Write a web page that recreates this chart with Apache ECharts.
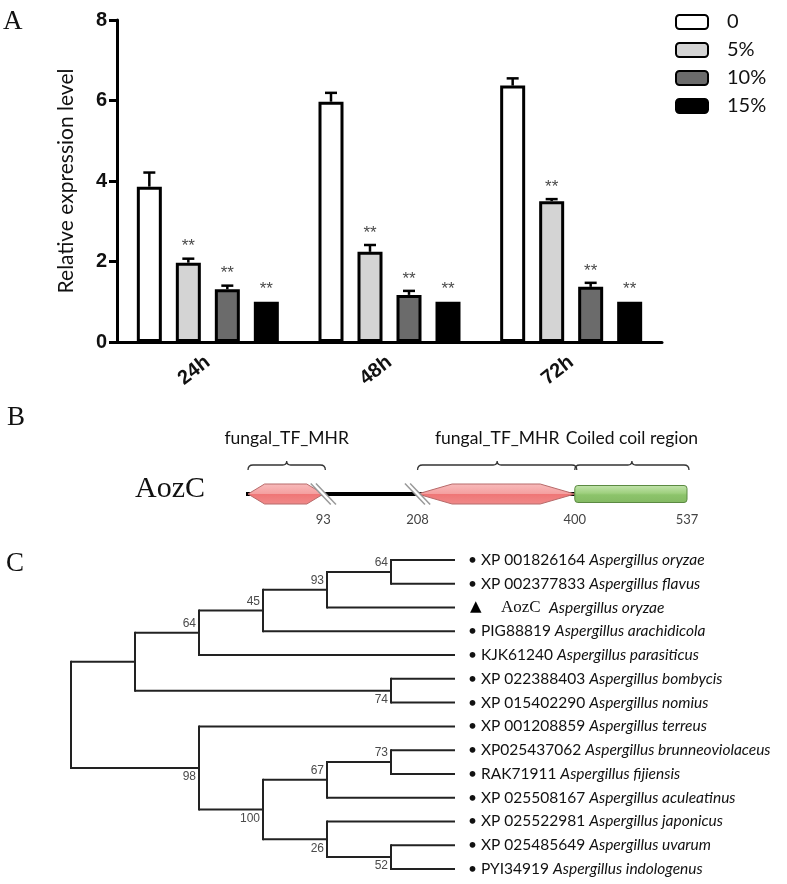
<!DOCTYPE html>
<html><head><meta charset="utf-8">
<script src="https://cdn.jsdelivr.net/npm/echarts@6/dist/echarts.min.js"></script>
<style>html,body{margin:0;padding:0;background:#fff}#c{width:787px;height:884px}</style>
</head><body><div id="c"></div>
<script>
// ---------------- Panel A data ----------------
const categories = ['24h', '48h', '72h'];
const groupNames = ['0', '5%', '10%', '15%'];
const mean0  = [3.86, 5.97, 6.37];
const mean5  = [1.97, 2.24, 3.50];
const mean10 = [1.31, 1.17, 1.37];
const mean15 = [1.00, 1.00, 1.00];
const err0  = [0.35, 0.22, 0.18];
const err5  = [0.10, 0.17, 0.05];
const err10 = [0.09, 0.10, 0.10];
const err15 = [0, 0, 0];
const sig0  = ['', '', ''];
const sig5  = ['**', '**', '**'];
const sig10 = ['**', '**', '**'];
const sig15 = ['**', '**', '**'];
const yMin = 0, yMax = 8, yStep = 2;

// ---------------- Panel B data ----------------
const proteinName = 'AozC';
const proteinLength = 537;
const domainNames = ['fungal_TF_MHR', 'fungal_TF_MHR', 'Coiled coil region'];
const domainStart = [1, 208, 400];
const domainEnd   = [93, 400, 537];
const domainShape = ['hex', 'hex', 'bar'];
const breakPoints = [93, 208];
const positionMarks = [93, 208, 400, 537];

// ---------------- Panel C data ----------------
const taxonIds = ['XP 001826164', 'XP 002377833', 'AozC', 'PIG88819', 'KJK61240',
  'XP 022388403', 'XP 015402290', 'XP 001208859', 'XP025437062', 'RAK71911',
  'XP 025508167', 'XP 025522981', 'XP 025485649', 'PYI34919'];
const taxonSpecies = ['Aspergillus oryzae', 'Aspergillus flavus', 'Aspergillus oryzae',
  'Aspergillus arachidicola', 'Aspergillus parasiticus', 'Aspergillus bombycis',
  'Aspergillus nomius', 'Aspergillus terreus', 'Aspergillus brunneoviolaceus',
  'Aspergillus fijiensis', 'Aspergillus aculeatinus', 'Aspergillus japonicus',
  'Aspergillus uvarum', 'Aspergillus indologenus'];
const queryTaxon = 2;
const treeNewick = '((((((0,1)64,2)93,3)45,4)64,(5,6)74),(7,(((8,9)73,10)67,(11,(12,13)52)26)100)98);';

// ---------------- helpers ----------------
const means = [mean0, mean5, mean10, mean15];
const errs = [err0, err5, err10, err15];
const sigs = [sig0, sig5, sig10, sig15];
const fills = ['#ffffff', '#d4d4d4', '#6b6b6b', '#000000'];
const BAR_W = 25, BAR_GAP = 0.56;
const CAL = 'Lato, "Open Sans", sans-serif';

function parseNewick(s) {
  let i = 0;
  function node() {
    const n = { children: [] };
    if (s[i] === '(') {
      i++;
      n.children.push(node());
      while (s[i] === ',') { i++; n.children.push(node()); }
      i++;
    }
    let tok = '';
    while (i < s.length && !',();'.includes(s[i])) tok += s[i++];
    if (n.children.length) n.support = tok === '' ? null : tok; else n.leaf = +tok;
    return n;
  }
  return node();
}
const treeRoot = parseNewick(treeNewick);
function measure(n) {
  if (!n.children.length) { n.h = 0; n.y = n.leaf; return; }
  n.children.forEach(measure);
  n.h = 1 + Math.max(...n.children.map(c => c.h));
  n.y = (n.children[0].y + n.children[n.children.length - 1].y) / 2;
}
measure(treeRoot);
const H = treeRoot.h;
const treeNodes = [];
function flatten(n, parent, pos) {
  n.x = H - n.h;
  treeNodes.push({ node: n, parent: parent, pos: pos });
  n.children.forEach((c, k) => flatten(c, n, k === 0 ? -1 : 1));
}
flatten(treeRoot, null, 0);

// ---------------- series ----------------
const series = [];
groupNames.forEach((g, i) => {
  series.push({
    type: 'bar', name: g, xAxisIndex: 0, yAxisIndex: 0, data: means[i],
    barWidth: BAR_W, barGap: (BAR_GAP * 100) + '%', z: 2,
    itemStyle: { color: fills[i], borderColor: '#000', borderWidth: 3 },
    emphasis: { disabled: true }
  });
});
groupNames.forEach((g, i) => {
  series.push({
    type: 'custom', xAxisIndex: 0, yAxisIndex: 0, z: 3, silent: true,
    data: categories.map((c, j) => [j, means[i][j], errs[i][j]]),
    renderItem: function (params, api) {
      const j = api.value(0), m = api.value(1), e = api.value(2);
      const base = api.coord([j, m]);
      const top = api.coord([j, m + e]);
      const x = base[0] + (i - 1.5) * BAR_W * (1 + BAR_GAP);
      const ch = [];
      if (e > 0) {
        ch.push({ type: 'line', shape: { x1: x, y1: base[1], x2: x, y2: top[1] }, style: { stroke: '#000', lineWidth: 2.5 } });
        ch.push({ type: 'line', shape: { x1: x - 6, y1: top[1], x2: x + 6, y2: top[1] }, style: { stroke: '#000', lineWidth: 2.5 } });
      }
      const s = sigs[i][params.dataIndex];
      if (s) ch.push({ type: 'text', style: { text: s, x: x, y: top[1] - 12, align: 'center', verticalAlign: 'middle', fontSize: 17, fontFamily: '"Liberation Sans"', fill: '#4a4a4a' } });
      return { type: 'group', children: ch };
    }
  });
});

// Panel B: backbone
series.push({
  type: 'custom', xAxisIndex: 1, yAxisIndex: 1, silent: true, z: 1,
  data: [[domainStart[0], domainStart[2]]],
  renderItem: function (params, api) {
    const a = api.coord([api.value(0), 0.5]), b = api.coord([api.value(1), 0.5]);
    return { type: 'line', shape: { x1: a[0] - 2, y1: a[1], x2: b[0], y2: b[1] }, style: { stroke: '#000', lineWidth: 4 } };
  }
});
// Panel B: domains
series.push({
  type: 'custom', xAxisIndex: 1, yAxisIndex: 1, silent: true, z: 2,
  data: domainStart.map((s, k) => [s, domainEnd[k], k]),
  renderItem: function (params, api) {
    const k = api.value(2);
    const a = api.coord([api.value(0), 0.5]), b = api.coord([api.value(1), 0.5]);
    const yt = api.coord([api.value(0), 1])[1], yb = api.coord([api.value(0), 0])[1];
    const ym = a[1];
    const ch = [];
    if (domainShape[k] === 'hex') {
      const t = (b[0] - a[0]) * 0.22;
      ch.push({ type: 'polygon', shape: { points: [[a[0], ym], [a[0] + t, yt], [b[0] - t, yt], [b[0], ym], [b[0] - t, yb], [a[0] + t, yb]] },
        style: { fill: new echarts.graphic.LinearGradient(0, 0, 0, 1, [
          { offset: 0, color: '#f8bcbc' }, { offset: 0.48, color: '#f4a0a0' },
          { offset: 0.52, color: '#ef7676' }, { offset: 1, color: '#f08a8a' }]),
          stroke: '#b76a6a', lineWidth: 1 } });
    } else {
      ch.push({ type: 'rect', shape: { x: a[0], y: yt + 1.5, width: b[0] - a[0], height: yb - yt - 3, r: 3 },
        style: { fill: new echarts.graphic.LinearGradient(0, 0, 0, 1, [
          { offset: 0, color: '#c4e4ae' }, { offset: 0.45, color: '#9fd07f' },
          { offset: 0.55, color: '#8cc46b' }, { offset: 1, color: '#84b963' }]),
          stroke: '#5b8a42', lineWidth: 1 } });
    }
    const by = yt - 19, x0 = a[0], x1 = b[0] + 2, xm = (x0 + x1) / 2;
    ch.push({ type: 'path', shape: { pathData:
      `M${x0},${by + 5} Q${x0},${by} ${x0 + 5},${by} L${xm - 4},${by} Q${xm},${by} ${xm},${by - 4} Q${xm},${by} ${xm + 4},${by} L${x1 - 5},${by} Q${x1},${by} ${x1},${by + 5}` },
      style: { fill: 'none', stroke: '#333', lineWidth: 1.3 } });
    ch.push({ type: 'text', style: { text: domainNames[k], x: xm, y: yt - 46, align: 'center', verticalAlign: 'middle', fontSize: 17.5, fontFamily: CAL, fill: '#111' } });
    return { type: 'group', children: ch };
  }
});
// Panel B: breaks
series.push({
  type: 'custom', xAxisIndex: 1, yAxisIndex: 1, silent: true, z: 3,
  data: breakPoints.map(p => [p]),
  renderItem: function (params, api) {
    const c = api.coord([api.value(0), 0.5]);
    const x = c[0], y = c[1], d = 2.6;
    return { type: 'group', children: [
      { type: 'polygon', shape: { points: [[x - 10 - d, y - 10.5], [x - 10 + d, y - 10.5], [x + 10 + d, y + 10.5], [x + 10 - d, y + 10.5]] }, style: { fill: '#fff' } },
      { type: 'line', shape: { x1: x - 10 - d, y1: y - 10.5, x2: x + 10 - d, y2: y + 10.5 }, style: { stroke: '#999', lineWidth: 1.5 } },
      { type: 'line', shape: { x1: x - 10 + d, y1: y - 10.5, x2: x + 10 + d, y2: y + 10.5 }, style: { stroke: '#999', lineWidth: 1.5 } }
    ] };
  }
});
// Panel B: position labels
series.push({
  type: 'custom', xAxisIndex: 1, yAxisIndex: 1, silent: true, z: 3,
  data: positionMarks.map(p => [p]),
  renderItem: function (params, api) {
    const c = api.coord([api.value(0), 0]);
    return { type: 'text', style: { text: String(api.value(0)), x: c[0], y: c[1] + 16, align: 'center', verticalAlign: 'middle', fontSize: 13, fontFamily: CAL, fill: '#444' } };
  }
});
// Panel C: tree
series.push({
  type: 'custom', xAxisIndex: 2, yAxisIndex: 2, silent: true, z: 2,
  data: treeNodes.map(t => [t.node.x, t.node.y]),
  renderItem: function (params, api) {
    const t = treeNodes[params.dataIndex], n = t.node;
    const p = api.coord([api.value(0), api.value(1)]);
    const ch = [];
    const ls = { stroke: '#222', lineWidth: 2 };
    if (t.parent) {
      const pp = api.coord([t.parent.x, n.y]);
      ch.push({ type: 'line', shape: { x1: pp[0], y1: pp[1], x2: p[0], y2: p[1] }, style: ls });
    }
    if (n.children.length) {
      const a = api.coord([n.x, n.children[0].y]);
      const b = api.coord([n.x, n.children[n.children.length - 1].y]);
      ch.push({ type: 'line', shape: { x1: a[0], y1: a[1] - 1, x2: b[0], y2: b[1] + 1 }, style: ls });
      if (n.support) ch.push({ type: 'text', style: { text: n.support, x: p[0] - 3, y: p[1] + t.pos * 9, align: 'right', verticalAlign: 'middle', fontSize: 12, fontFamily: '"Liberation Sans"', fill: '#4a4a4a' } });
    } else {
      const k = n.leaf;
      if (k === queryTaxon) {
        ch.push({ type: 'text', style: { text: '▲', x: p[0] + 15, y: p[1], align: 'left', verticalAlign: 'middle', fontSize: 15, fontFamily: '"DejaVu Sans"', fill: '#000' } });
        ch.push({ type: 'text', style: { text: taxonIds[k], x: p[0] + 46, y: p[1], align: 'left', verticalAlign: 'middle', fontSize: 17, fontFamily: '"Liberation Serif"', fill: '#111' } });
        ch.push({ type: 'text', style: { text: taxonSpecies[k], x: p[0] + 94, y: p[1], align: 'left', verticalAlign: 'middle', fontSize: 15.5, fontStyle: 'italic', fontFamily: CAL, fill: '#111' } });
      } else {
        ch.push({ type: 'text', style: {
          text: '{b|•} {id|' + taxonIds[k] + '} {it|' + taxonSpecies[k] + '}',
          x: p[0] + 13, y: p[1], align: 'left', verticalAlign: 'middle',
          fontSize: 15.5, fontFamily: CAL, fill: '#111',
          rich: { b: { fontSize: 15.5, fontFamily: CAL, fill: '#111' },
                  id: { fontSize: 15.5, fontFamily: CAL, fill: '#111' },
                  it: { fontSize: 15.5, fontFamily: CAL, fontStyle: 'italic', fill: '#111' } } } });
      }
    }
    return { type: 'group', children: ch };
  }
});

const option = {
  animation: false,
  backgroundColor: '#fff',
  legend: {
    data: groupNames, orient: 'vertical', left: 670, top: 7,
    itemWidth: 32, itemHeight: 14, itemGap: 8, icon: 'roundRect',
    textStyle: { fontSize: 20, fontFamily: CAL, color: '#111', lineHeight: 20, padding: [0, 0, 0, 14] },
    selectedMode: false
  },
  grid: [
    { left: 117, top: 20, width: 545, height: 322 },
    { left: 248, top: 484, width: 439, height: 20 },
    { left: 71, top: 560, width: 384, height: 309 }
  ],
  xAxis: [
    { gridIndex: 0, type: 'category', data: categories,
      axisLine: { lineStyle: { color: '#000', width: 3 } },
      axisTick: { alignWithLabel: true, length: 7, lineStyle: { color: '#000', width: 3 } },
      axisLabel: { rotate: 38, margin: 18, fontSize: 20, fontWeight: 'bold', fontFamily: '"Liberation Sans"', color: '#111' } },
    { gridIndex: 1, type: 'value', min: 1, max: proteinLength, show: false },
    { gridIndex: 2, type: 'value', min: 0, max: H, show: false }
  ],
  yAxis: [
    { gridIndex: 0, type: 'value', min: yMin, max: yMax, interval: yStep,
      name: 'Relative expression level', nameLocation: 'middle', nameGap: 40,
      nameTextStyle: { fontSize: 21, fontFamily: CAL, color: '#111' },
      axisLine: { show: true, lineStyle: { color: '#000', width: 3 } },
      axisTick: { show: true, length: 8, lineStyle: { color: '#000', width: 3 } },
      axisLabel: { margin: 10, fontSize: 20, fontWeight: 'bold', fontFamily: '"Liberation Sans"', color: '#111' },
      splitLine: { show: false } },
    { gridIndex: 1, type: 'value', min: 0, max: 1, show: false },
    { gridIndex: 2, type: 'value', min: 0, max: taxonIds.length - 1, inverse: true, show: false }
  ],
  graphic: [
    { type: 'text', left: 3, top: 8, style: { text: 'A', fontSize: 27, fontFamily: '"Liberation Serif"', fill: '#111' } },
    { type: 'text', left: 7, top: 404, style: { text: 'B', fontSize: 27, fontFamily: '"Liberation Serif"', fill: '#111' } },
    { type: 'text', left: 6, top: 550, style: { text: 'C', fontSize: 27, fontFamily: '"Liberation Serif"', fill: '#111' } },
    { type: 'text', left: 135, top: 474, style: { text: proteinName, fontSize: 30, fontFamily: '"Liberation Serif"', fill: '#111' } }
  ],
  series: series
};
const chart = echarts.init(document.getElementById('c'), null, { renderer: 'canvas' });
chart.setOption(option);
</script></body></html>
